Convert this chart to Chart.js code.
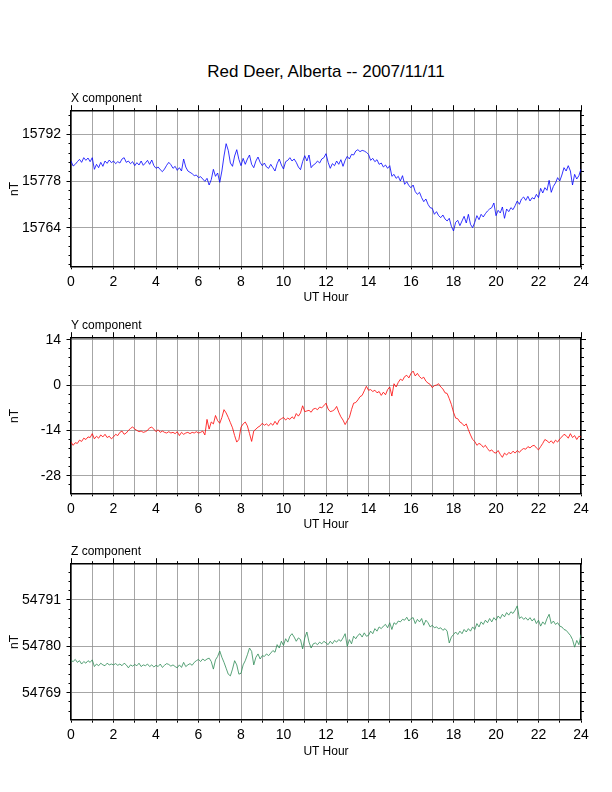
<!DOCTYPE html>
<html>
<head>
<meta charset="utf-8">
<script src="https://cdn.jsdelivr.net/npm/chart.js@4.4.0/dist/chart.umd.min.js"></script>
<style>
  body { margin: 0; width: 612px; height: 792px; background: #fff; position: relative; overflow: hidden;
         font-family: "Liberation Sans", Arial, Helvetica, sans-serif; }
  canvas { position: absolute; left: 0; }
  .lbl { position: absolute; line-height: 1; white-space: nowrap; color: #000; }
</style>
</head>
<body>
<div class="lbl" style="font-size:17px; left:0; width:652px; text-align:center; top:62.9px">Red Deer, Alberta -- 2007/11/11</div>

<script>
// one sample every 0.1 UT hour, 00:00 .. 24:00
const SAMPLE_STEP = 0.1;

const xComponent = [
  15784.0, 15782.5, 15783.0, 15783.8, 15784.5, 15783.6, 15785.0, 15784.2, 15784.9, 15783.8,
  15785.0, 15781.5, 15783.0, 15782.0, 15783.6, 15782.4, 15784.0, 15783.3, 15784.3, 15783.5,
  15784.0, 15783.2, 15783.8, 15783.4, 15784.6, 15785.0, 15783.6, 15784.0, 15783.2, 15783.8,
  15782.6, 15783.5, 15782.8, 15784.0, 15782.7, 15783.4, 15784.2, 15783.0, 15784.3, 15782.6,
  15781.8, 15782.2, 15781.4, 15780.8, 15781.6, 15782.7, 15783.6, 15782.9, 15781.8, 15782.4,
  15781.2, 15782.0, 15781.0, 15784.6, 15782.2, 15781.0, 15780.6, 15780.2, 15779.6, 15779.8,
  15779.0, 15779.3, 15778.6, 15777.9, 15778.8, 15776.8, 15778.4, 15781.5, 15779.4, 15780.4,
  15777.6, 15781.0, 15785.5, 15789.2, 15787.2, 15783.4, 15782.4, 15785.5, 15787.4, 15784.5,
  15782.6, 15784.8, 15783.0, 15784.6, 15785.8, 15783.0, 15782.0, 15784.0, 15785.2, 15783.6,
  15782.6, 15783.4, 15782.2, 15781.8, 15783.0, 15782.0, 15781.0, 15783.2, 15784.6, 15782.8,
  15781.6, 15783.8, 15784.2, 15785.0, 15784.0, 15784.6, 15783.6, 15782.2, 15781.4, 15783.8,
  15785.6, 15784.0, 15785.8, 15782.0, 15782.8, 15783.2, 15784.0, 15783.4, 15784.6, 15785.0,
  15786.2, 15783.6, 15781.8, 15783.2, 15782.6, 15784.0, 15783.0, 15784.4, 15782.4, 15784.2,
  15785.4, 15784.6, 15786.0, 15785.8, 15787.0, 15787.4, 15786.8, 15787.2, 15787.0, 15786.6,
  15786.0, 15784.2, 15784.8, 15783.8, 15784.4, 15783.0, 15783.4, 15782.2, 15782.8, 15781.8,
  15782.6, 15779.4, 15780.0, 15778.8, 15779.4, 15778.0, 15779.6, 15777.0, 15777.8, 15776.6,
  15776.0, 15776.8, 15774.8, 15774.0, 15774.6, 15773.0, 15771.8, 15772.6, 15771.0, 15770.0,
  15769.8, 15768.0, 15768.8, 15767.6, 15767.0, 15767.8, 15766.6, 15766.0, 15766.8, 15764.4,
  15763.0, 15765.6, 15766.2, 15764.6, 15766.0, 15767.4, 15765.4, 15768.0, 15765.0, 15764.0,
  15765.6, 15767.6, 15766.4, 15768.0, 15767.2, 15768.2, 15769.0, 15769.6, 15770.0, 15771.4,
  15767.6, 15769.2, 15768.4, 15770.2, 15766.8, 15769.6, 15768.8, 15770.0, 15769.4, 15770.6,
  15772.0, 15771.0, 15772.6, 15773.2, 15772.2, 15773.4, 15772.0, 15773.0, 15772.6, 15774.0,
  15773.0, 15775.8, 15774.4, 15776.0, 15775.2, 15778.2, 15774.6, 15776.4, 15777.4, 15779.0,
  15778.0, 15779.8, 15782.0, 15781.0, 15782.6, 15781.0, 15776.8, 15780.0, 15778.6, 15779.6,
  15781.6
];

const yComponent = [
  -17.6, -18.6, -17.8, -18.0, -17.0, -17.4, -16.4, -16.8, -16.0, -16.2,
  -15.0, -16.6, -15.8, -16.4, -15.4, -16.0, -15.2, -16.2, -15.8, -16.6,
  -16.0, -15.2, -15.6, -14.6, -14.2, -15.2, -14.8, -14.0, -13.4, -12.9,
  -13.6, -14.0, -14.4, -14.2, -14.6, -14.4, -14.0, -13.2, -13.0, -13.6,
  -14.4, -13.8, -14.6, -14.2, -14.6, -14.8, -14.4, -14.8, -14.6, -15.0,
  -14.4, -15.6, -14.6, -15.2, -14.8, -14.6, -15.0, -14.6, -14.8, -14.4,
  -14.8, -14.6, -14.2, -15.4, -10.6, -13.6, -11.4, -12.0, -9.4, -11.0,
  -11.8, -10.0, -7.6, -8.6, -10.0, -11.6, -13.2, -15.6, -17.6, -16.8,
  -13.0, -12.0, -11.4, -12.6, -15.0, -17.4, -14.2, -13.6, -13.0, -12.6,
  -11.8, -12.4, -12.0, -12.6, -11.8, -12.4, -11.2, -12.2, -10.8, -10.4,
  -10.0, -10.8, -10.2, -10.6, -9.8, -10.4, -8.8, -9.6, -8.6, -6.4,
  -8.2, -8.0, -7.8, -8.4, -7.4, -7.2, -7.6, -6.8, -7.0, -6.4,
  -5.6, -7.4, -8.2, -8.0, -7.6, -6.6, -8.4, -9.8, -10.8, -12.2,
  -11.0, -10.0, -7.6, -5.6, -5.4, -4.6, -3.6, -3.2, -1.8, -0.4,
  -1.6, -1.4, -2.0, -1.6, -2.4, -2.0, -3.2, -2.2, -3.0, -1.4,
  -0.6, -3.4, 0.4, -0.6, 0.8, 1.8, 1.4, 2.6, 3.0, 2.2,
  3.6, 4.3, 2.8, 3.6, 2.6, 2.0, 2.4, 1.2, 0.6, 0.2,
  -0.8, -0.2, 0.0, 0.4, -0.6, -1.2, -2.4, -2.6, -4.2, -6.0,
  -8.4, -10.2, -10.4, -11.4, -11.8, -12.6, -12.0, -13.8, -15.4, -16.8,
  -17.4, -18.6, -18.0, -18.4, -19.2, -18.6, -19.6, -20.4, -20.0, -20.8,
  -21.0, -20.2, -21.4, -22.3, -21.0, -21.6, -20.8, -21.2, -20.4, -21.0,
  -20.2, -20.8, -20.0, -19.6, -19.8, -19.0, -19.4, -18.8, -18.6, -19.4,
  -20.0, -19.0, -18.0, -16.8, -17.2, -17.8, -17.2, -18.0, -17.0, -17.6,
  -16.6, -16.0, -15.2, -15.6, -16.4, -15.0, -16.2, -15.6, -16.8, -15.8,
  -16.0
];

const zComponent = [
  54776.6, 54776.4, 54776.9, 54776.2, 54776.6, 54775.8, 54776.4, 54776.0, 54776.6, 54776.2,
  54776.8, 54775.2, 54775.8, 54775.4, 54776.0, 54775.6, 54775.4, 54776.0, 54775.6, 54775.8,
  54775.6, 54775.9, 54775.5, 54775.8, 54775.4, 54776.0, 54775.6, 54774.9, 54775.6, 54775.3,
  54775.7, 54775.4, 54776.0, 54775.2, 54775.6, 54775.4, 54775.8, 54775.2, 54775.6, 54775.1,
  54775.5, 54775.2, 54775.8, 54775.0, 54775.5, 54775.9, 54775.7, 54775.3, 54775.6, 54775.2,
  54774.9, 54775.6, 54775.0, 54776.2, 54775.2, 54775.6, 54775.9, 54775.5, 54776.2, 54776.6,
  54776.9, 54776.4, 54777.0, 54776.6, 54777.0, 54777.2, 54776.4, 54774.6, 54776.8, 54777.6,
  54778.9, 54777.4, 54776.2, 54774.8, 54773.4, 54773.0, 54774.6, 54776.6, 54775.6, 54773.4,
  54773.6, 54775.6, 54776.6, 54778.0, 54779.6, 54778.8, 54775.6, 54777.4, 54778.2, 54777.0,
  54777.8, 54777.6, 54778.2, 54777.8, 54778.4, 54779.0, 54778.6, 54780.4, 54779.6, 54781.2,
  54780.2, 54781.8, 54781.0, 54782.4, 54783.0, 54782.2, 54781.2, 54782.0, 54781.6, 54779.4,
  54782.0, 54783.4, 54781.0, 54779.6, 54780.6, 54780.8, 54780.4, 54781.0, 54780.6, 54781.2,
  54780.8, 54780.4, 54781.2, 54780.6, 54781.4, 54781.0, 54781.6, 54781.2, 54782.0, 54783.0,
  54780.0, 54781.6, 54780.6, 54782.4, 54781.8, 54782.6, 54783.0, 54782.2, 54783.2, 54782.4,
  54782.6, 54783.6, 54783.0, 54784.2, 54783.6, 54784.6, 54784.2, 54784.8, 54785.2, 54784.4,
  54785.6, 54784.0, 54785.6, 54785.2, 54786.0, 54785.8, 54786.4, 54786.2, 54786.9, 54786.0,
  54786.6, 54786.8, 54785.4, 54786.4, 54785.8, 54786.6, 54785.0, 54786.2, 54785.6, 54784.6,
  54785.0, 54784.4, 54784.6, 54784.2, 54784.4, 54783.8, 54784.2, 54783.6, 54780.8, 54782.2,
  54782.8, 54783.4, 54782.8, 54783.6, 54783.0, 54784.0, 54783.4, 54784.2, 54783.6, 54784.6,
  54784.0, 54785.4, 54784.6, 54785.8, 54785.2, 54786.2, 54785.6, 54786.6, 54785.8, 54786.8,
  54786.2, 54787.2, 54786.6, 54787.6, 54787.0, 54788.0, 54787.4, 54788.2, 54787.8, 54788.6,
  54789.6, 54786.6, 54787.0, 54786.4, 54786.8, 54786.2, 54786.8, 54786.0, 54786.6, 54785.4,
  54786.2, 54784.8, 54785.8, 54785.2, 54786.6, 54787.6, 54785.4, 54786.0, 54785.2, 54785.6,
  54784.8, 54784.6, 54784.0, 54783.8, 54783.2, 54782.6, 54781.6, 54779.8, 54781.4, 54780.4,
  54782.8
];

const componentNames = ['X component', 'Y component', 'Z component'];
const lineColors = ['#0000ff', '#ff0000', '#2e8b57'];
const yRanges = [[15752.4, 15799.1], [-33.4, 14.6], [54762.6, 54799.6]];
const yMajorSteps = [14, 14, 11];
const yMinorSteps = [2.8, 2.8, 2.2];

// plot frame top/bottom of each panel, in page pixels
const panelTops = [110.7, 337.7, 564];
const panelBottoms = [266.3, 493.3, 720];

const FONT = '"Liberation Sans", Arial, Helvetica, sans-serif';
Chart.defaults.font.family = FONT;
Chart.defaults.color = '#000';

const GRID = '#8f8f8f';

function addLabel(text, size, css) {
  const d = document.createElement('div');
  d.className = 'lbl';
  d.style.fontSize = size + 'px';
  Object.assign(d.style, css);
  d.textContent = text;
  document.body.appendChild(d);
}

function tickOnlyAxis(position, weight, step, min, max, len, size) {
  return {
    type: 'linear', position, weight, min, max,
    ticks: { stepSize: step, display: false, includeBounds: false },
    grid: { drawOnChartArea: false, tickColor: '#000', tickLength: len, tickWidth: 1 },
    border: { display: false },
    afterFit: s => { if (position === 'top' || position === 'bottom') s.height = size; else s.width = size; }
  };
}

function drawPanel(i, values) {
  const plotTop = panelTops[i], plotBottom = panelBottoms[i];
  const canvasTop = plotTop - 20.7, canvasHeight = 215;
  const [yMin, yMax] = yRanges[i];

  const canvas = document.createElement('canvas');
  canvas.width = 612;
  canvas.height = canvasHeight;
  canvas.style.top = canvasTop + 'px';
  document.body.appendChild(canvas);

  addLabel(componentNames[i], 12, { left: '71px', top: (plotTop - 19.2) + 'px' });
  addLabel('UT Hour', 12, { left: '0px', width: '652px', textAlign: 'center', top: (plotBottom + 24.8) + 'px' });
  addLabel('nT', 12, { left: '14px', top: ((plotTop + plotBottom) / 2) + 'px',
                       transform: 'translate(-50%, -50%) rotate(-90deg)' });

  const points = values.map((v, k) => ({ x: k * SAMPLE_STEP, y: v }));

  new Chart(canvas, {
    type: 'line',
    data: {
      datasets: [{
        data: points,
        borderColor: lineColors[i],
        borderWidth: 0.8,
        pointRadius: 0,
        tension: 0,
        xAxisID: 'x',
        yAxisID: 'y'
      }]
    },
    options: {
      responsive: false,
      animation: false,
      events: [],
      layout: { padding: { left: 0, right: 21, top: plotTop - canvasTop - 6, bottom: canvasTop + canvasHeight - plotBottom - 30 } },
      plugins: { legend: { display: false }, tooltip: { enabled: false } },
      scales: {
        x: {
          type: 'linear', position: 'bottom', min: 0, max: 24,
          ticks: { stepSize: 1, autoSkip: false, maxRotation: 0, padding: 4, color: '#000',
                   font: { size: 14 }, callback: v => (v % 2 === 0 ? String(v) : '') },
          grid: { color: GRID, lineWidth: 0.8, tickColor: '#000', tickLength: 3, tickWidth: 1 },
          border: { display: true, color: '#000', width: 1.5 },
          afterFit: s => { s.height = 30; }
        },
        xTopMinor: tickOnlyAxis('top', 0, 1, 0, 24, 2.5, 0),
        xTopMajor: Object.assign(tickOnlyAxis('top', 1, 2, 0, 24, 5.5, 6),
                                 { border: { display: true, color: '#000', width: 1.5 } }),
        y: {
          type: 'linear', position: 'left', weight: 1, min: yMin, max: yMax,
          ticks: { stepSize: yMajorSteps[i], includeBounds: false, autoSkip: false, padding: 5.5,
                   color: '#000', font: { size: 14 }, callback: v => String(Math.round(v)) },
          grid: { color: GRID, lineWidth: 0.8, tickColor: '#000', tickLength: 4.5, tickWidth: 1 },
          border: { display: true, color: '#000', width: 1.5 },
          afterFit: s => { s.width = 71; }
        },
        yLeftMinor: tickOnlyAxis('left', 0, yMinorSteps[i], yMin, yMax, 2.5, 0),
        yRightMajor: Object.assign(tickOnlyAxis('right', 1, yMajorSteps[i], yMin, yMax, 5, 10),
                                   { border: { display: true, color: '#000', width: 1.5 } }),
        yRightMinor: tickOnlyAxis('right', 0, yMinorSteps[i], yMin, yMax, 3, 0)
      }
    }
  });
}

drawPanel(0, xComponent);
drawPanel(1, yComponent);
drawPanel(2, zComponent);
</script>
</body>
</html>
